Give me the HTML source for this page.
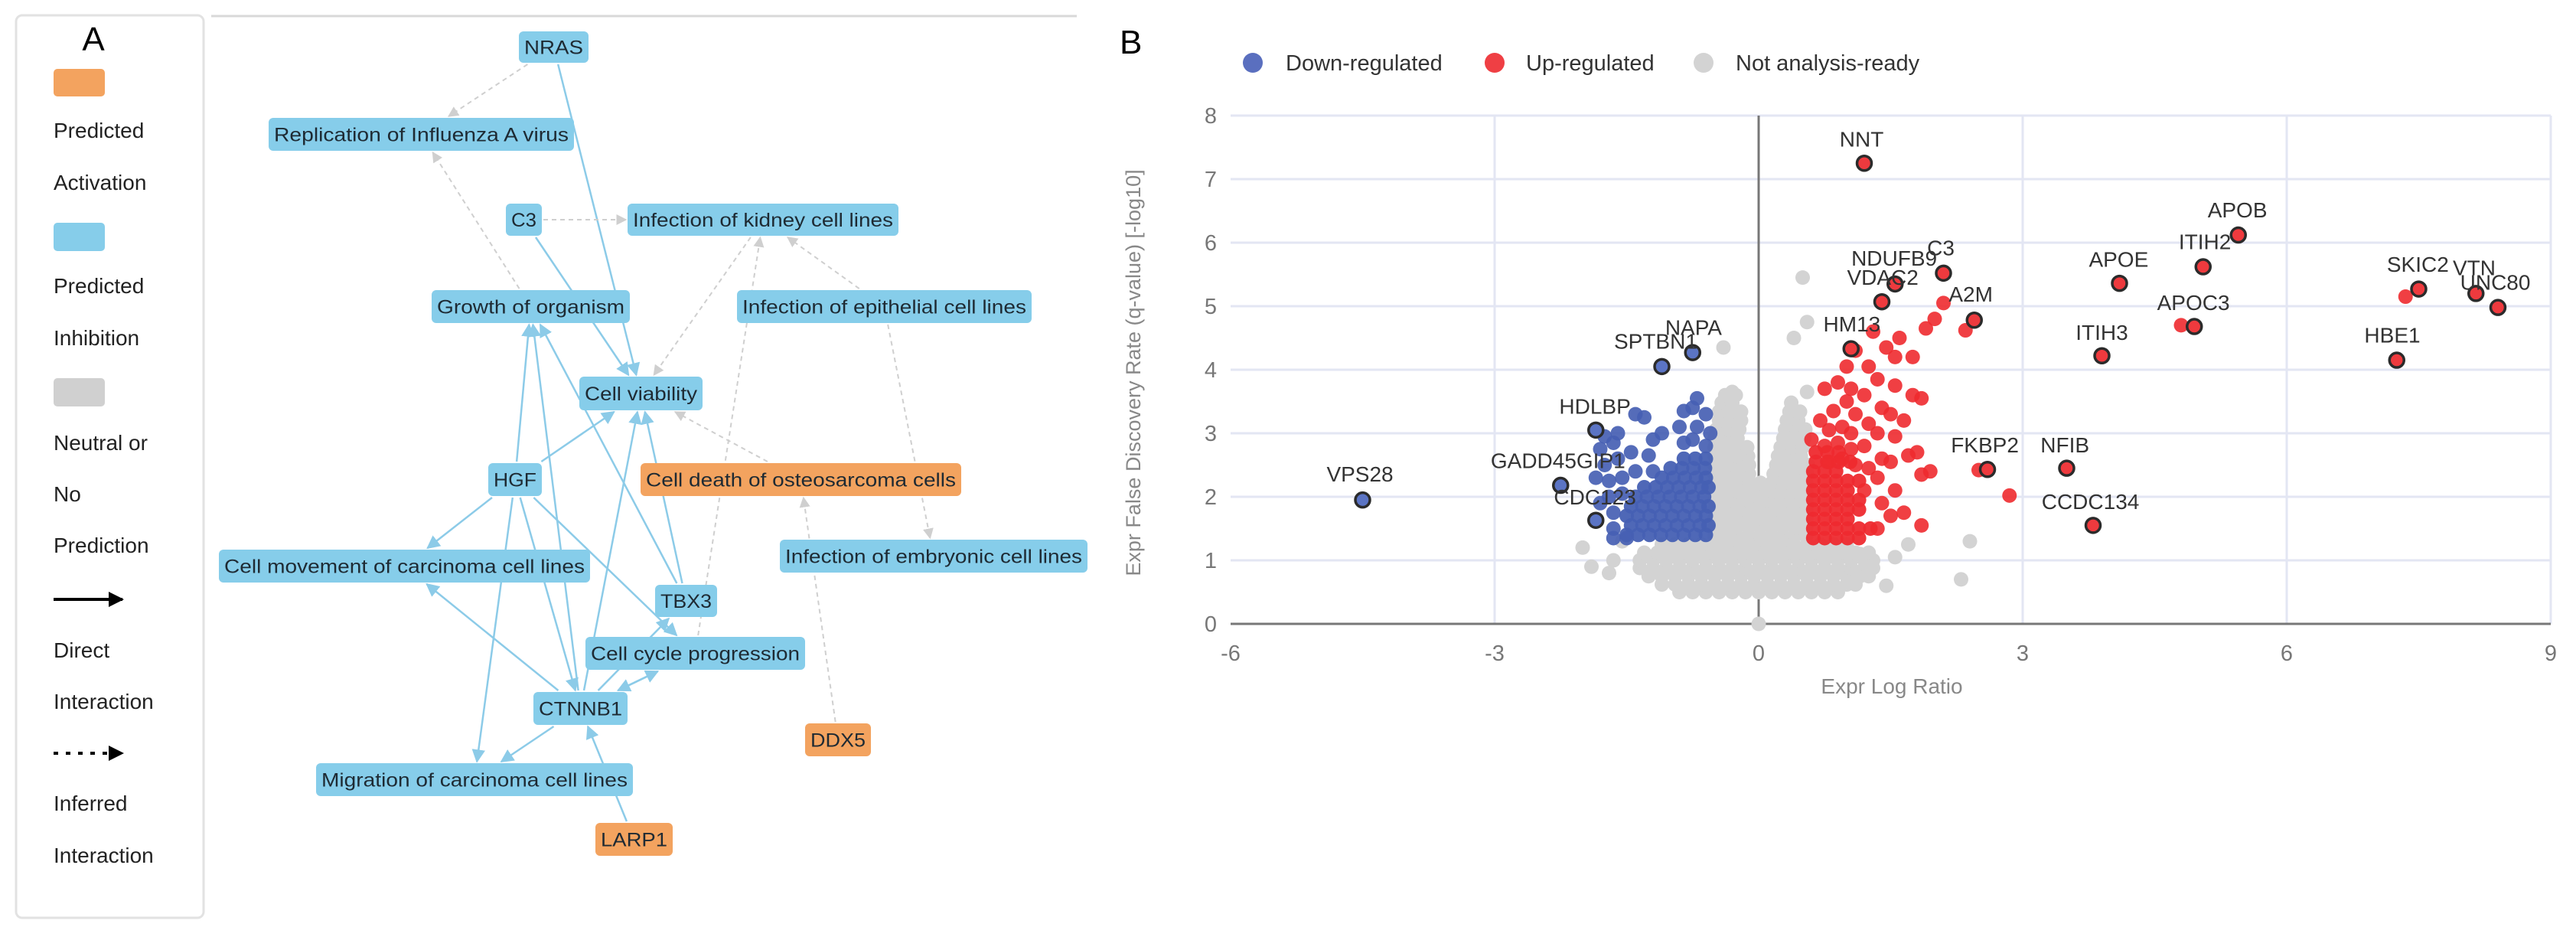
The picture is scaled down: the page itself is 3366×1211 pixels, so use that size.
<!DOCTYPE html>
<html><head><meta charset="utf-8"><style>
html,body{margin:0;padding:0;background:#fff;}
svg{display:block;font-family:"Liberation Sans",Arial,sans-serif;}
</style></head><body>
<svg id="root" width="3366" height="1211" viewBox="0 0 3366 1211" xmlns="http://www.w3.org/2000/svg">
<defs>
<marker id="ab" viewBox="0 0 10 10" refX="9" refY="5" markerWidth="7" markerHeight="7" orient="auto"><path d="M0,0L10,5L0,10z" fill="#8ccbe8"/></marker>
<marker id="ag" viewBox="0 0 10 10" refX="9" refY="5" markerWidth="7" markerHeight="7" orient="auto"><path d="M0,0L10,5L0,10z" fill="#cfcfcf"/></marker>
<marker id="ak" viewBox="0 0 10 10" refX="9" refY="5" markerWidth="5" markerHeight="5" orient="auto"><path d="M0,0L10,5L0,10z" fill="#000"/></marker>
</defs>
<g>
<rect x="21" y="20" width="245" height="1179" rx="8" fill="#fff" stroke="#e2e2e2" stroke-width="3"/>
<line x1="276" y1="21" x2="1407" y2="21" stroke="#d8d8d8" stroke-width="3"/>
<text x="122" y="66" font-size="44" text-anchor="middle" fill="#000">A</text>
<g font-size="28" fill="#222">
<rect x="70" y="90" width="67" height="36" rx="5" fill="#f3a35f"/>
<text x="70" y="180">Predicted</text>
<text x="70" y="248">Activation</text>
<rect x="70" y="291" width="67" height="37" rx="5" fill="#86cdea"/>
<text x="70" y="383">Predicted</text>
<text x="70" y="451">Inhibition</text>
<rect x="70" y="494" width="67" height="37" rx="5" fill="#d0d0d0"/>
<text x="70" y="588">Neutral or</text>
<text x="70" y="655">No</text>
<text x="70" y="722">Prediction</text>
<line x1="70" y1="783" x2="160" y2="783" stroke="#000" stroke-width="4" marker-end="url(#ak)"/>
<text x="70" y="859">Direct</text>
<text x="70" y="926">Interaction</text>
<line x1="70" y1="984" x2="160" y2="984" stroke="#000" stroke-width="4" stroke-dasharray="6,10" marker-end="url(#ak)"/>
<text x="70" y="1059">Inferred</text>
<text x="70" y="1127">Interaction</text>
</g>
<g id="edges"></g>
<g id="nodes"></g>
</g>
<g>
<text x="1463" y="70" font-size="44" fill="#000">B</text>
<g font-size="29" fill="#333">
<circle cx="1637" cy="82" r="13" fill="#5a6fbf"/>
<text x="1680" y="92">Down-regulated</text>
<circle cx="1953" cy="82" r="13" fill="#ef3f44"/>
<text x="1994" y="92">Up-regulated</text>
<circle cx="2226" cy="82" r="13" fill="#d3d3d3"/>
<text x="2268" y="92">Not analysis-ready</text>
</g>
<g id="plot"></g>
</g>
</svg>
<script>
var NS='http://www.w3.org/2000/svg';
function mk(tag,attrs,parent){var e=document.createElementNS(NS,tag);for(var k in attrs)e.setAttribute(k,attrs[k]);parent.appendChild(e);return e;}
var nodeIds=['NRAS','REP','C3','KID','GRO','EPI','VIA','HGF','OST','EMB','MOV','TBX3','CYC','CTNNB1','DDX5','MIG','LARP1'];
var nodeLabels=['NRAS','Replication of Influenza A virus','C3','Infection of kidney cell lines','Growth of organism','Infection of epithelial cell lines','Cell viability','HGF','Cell death of osteosarcoma cells','Infection of embryonic cell lines','Cell movement of carcinoma cell lines','TBX3','Cell cycle progression','CTNNB1','DDX5','Migration of carcinoma cell lines','LARP1'];
var nodeBox=[[678,41,769,82],[351,154,750,197],[661,266,708,308],[820,266,1174,308],[564,379,823,422],[963,379,1348,422],[757,492,918,536],[638,605,708,648],[837,605,1256,648],[1019,705,1421,748],[286,718,771,761],[856,764,937,806],[765,832,1052,875],[697,904,820,947],[1052,945,1138,988],[413,997,827,1040],[778,1075,879,1118]];
var nodeOrange=['OST','DDX5','LARP1'];
var solidEdges=[['NRAS','VIA'],['C3','VIA'],['HGF','VIA'],['HGF','GRO'],['HGF','MOV'],['HGF','MIG'],['HGF','CTNNB1'],['HGF','CYC'],['CTNNB1','GRO'],['CTNNB1','VIA'],['CTNNB1','MOV'],['CTNNB1','MIG'],['CTNNB1','CYC'],['CYC','CTNNB1'],['TBX3','GRO'],['TBX3','VIA'],['CTNNB1','TBX3'],['LARP1','CTNNB1']];
var dashEdges=[['NRAS','REP'],['GRO','REP'],['C3','KID'],['KID','VIA'],['EPI','KID'],['EPI','EMB'],['OST','VIA'],['CYC','KID'],['DDX5','OST']];
function box(id){return nodeBox[nodeIds.indexOf(id)];}
function ctr(b){return [(b[0]+b[2])/2,(b[1]+b[3])/2];}
function clip(from,b){var c=ctr(b),dx=from[0]-c[0],dy=from[1]-c[1];var hw=(b[2]-b[0])/2+2,hh=(b[3]-b[1])/2+2;var t=Math.min(dx?hw/Math.abs(dx):1e9,dy?hh/Math.abs(dy):1e9);return [c[0]+dx*t,c[1]+dy*t];}
var eg=document.getElementById('edges');
function drawEdge(e,dash){var s=ctr(box(e[0])),tb=box(e[1]);var p1=clip(ctr(tb),box(e[0])),p2=clip(s,tb);
 var l=mk('line',{x1:p1[0],y1:p1[1],x2:p2[0],y2:p2[1],stroke:dash?'#cfcfcf':'#8ccbe8','stroke-width':dash?2:2.5,'marker-end':dash?'url(#ag)':'url(#ab)'},eg);
 if(dash)l.setAttribute('stroke-dasharray','6,5');
 
 }
solidEdges.forEach(function(e){drawEdge(e,false);});
dashEdges.forEach(function(e){drawEdge(e,true);});
var ng=document.getElementById('nodes');
nodeIds.forEach(function(id,i){var b=nodeBox[i];var g=mk('g',{},ng);
 
 
 var orange=nodeOrange.indexOf(id)>=0;
 mk('rect',{x:b[0],y:b[1],width:b[2]-b[0],height:b[3]-b[1],rx:6,fill:orange?'#f3a35f':'#86cdea'},g);
 var t=mk('text',{x:(b[0]+b[2])/2,y:(b[1]+b[3])/2+9,'font-size':25,'text-anchor':'middle',fill:'#1e2a33',textLength:(b[2]-b[0]-14),lengthAdjust:'spacingAndGlyphs'},g);
 t.textContent=nodeLabels[i];});

// ---------- Panel B volcano ----------
var xTicks=[-6,-3,0,3,6,9];
var yTicks=[0,1,2,3,4,5,6,7,8];
var grayRowY=[0.5,0.62,0.75,0.88,1.0,1.12,1.25,1.38,1.52,1.66,1.8,1.94,2.08,2.22,2.36,2.5,2.64,2.78,2.92,3.06,3.2,3.34,3.48,3.6];
var grayRowX=[
[-0.9,-0.75,-0.6,-0.45,-0.3,-0.15,0,0.15,0.3,0.45,0.6,0.75,0.9],
[-1.1,-0.95,-0.8,-0.65,-0.5,-0.35,-0.2,-0.05,0.1,0.25,0.4,0.55,0.7,0.85,1.0,1.1],
[-1.25,-1.1,-0.95,-0.8,-0.65,-0.5,-0.35,-0.2,-0.05,0.1,0.25,0.4,0.55,0.7,0.85,1.0,1.15,1.25],
[-1.35,-1.2,-1.05,-0.9,-0.75,-0.6,-0.45,-0.3,-0.15,0,0.15,0.3,0.45,0.6,0.75,0.9,1.05,1.2,1.3],
[-1.35,-1.2,-1.05,-0.9,-0.75,-0.6,-0.45,-0.3,-0.15,0,0.15,0.3,0.45,0.6,0.75,0.9,1.05,1.2,1.3],
[-1.3,-1.15,-1.0,-0.85,-0.7,-0.55,-0.4,-0.25,-0.1,0.05,0.2,0.35,0.5,0.65,0.8,0.95,1.1,1.25],
[-1.1,-0.95,-0.8,-0.65,-0.5,-0.35,-0.2,-0.05,0.1,0.25,0.4,0.55,0.7,0.85,1.0],
[-0.5,-0.37,-0.24,-0.11,0.02,0.15,0.28,0.41,0.54],
[-0.5,-0.37,-0.24,-0.11,0.02,0.15,0.28,0.41,0.54],
[-0.5,-0.37,-0.24,-0.11,0.02,0.15,0.28,0.41,0.54],
[-0.5,-0.37,-0.24,-0.11,0.02,0.15,0.28,0.41,0.54],
[-0.5,-0.37,-0.24,-0.11,0.02,0.15,0.28,0.41,0.54],
[-0.5,-0.37,-0.24,-0.11,0.02,0.15,0.28,0.41,0.54],
[-0.5,-0.37,-0.24,-0.11,0.02,0.15,0.28,0.41,0.54],
[-0.5,-0.37,-0.24,-0.11,0.17,0.3,0.43,0.55],
[-0.5,-0.37,-0.24,-0.11,0.2,0.33,0.46,0.56],
[-0.5,-0.37,-0.24,-0.12,0.22,0.35,0.48],
[-0.5,-0.37,-0.24,-0.13,0.25,0.38,0.5],
[-0.5,-0.37,-0.24,0.28,0.4,0.52],
[-0.48,-0.35,-0.22,0.3,0.43,0.53],
[-0.45,-0.32,-0.2,0.32,0.45],
[-0.45,-0.32,-0.2,0.35,0.47],
[-0.42,-0.3,0.37],
[-0.38,-0.26]];
var grayExtraX=[-2.0,-1.9,-1.65,-1.55,1.55,1.7,1.25,2.3,2.4,0.5,0.55,0.4,-0.4,0,-0.3,1.15,-1.7,1.45,0.55];
var grayExtraY=[1.2,0.9,1.0,1.3,1.05,1.25,0.8,0.7,1.3,5.45,4.75,4.5,4.35,0,3.65,1.1,0.8,0.6,3.65];
var downRowY=[1.4,1.55,1.7,1.85,2.0,2.15,2.3,2.45,2.6];
var downRowX=[
[-1.5,-1.37,-1.24,-1.11,-0.98,-0.85,-0.72,-0.6],
[-1.45,-1.32,-1.19,-1.06,-0.93,-0.8,-0.67,-0.57],
[-1.5,-1.37,-1.24,-1.11,-0.98,-0.85,-0.72,-0.6],
[-1.45,-1.32,-1.19,-1.06,-0.93,-0.8,-0.67,-0.57],
[-1.4,-1.27,-1.14,-1.01,-0.88,-0.75,-0.62],
[-1.3,-1.17,-1.04,-0.91,-0.78,-0.65,-0.57],
[-1.1,-0.97,-0.84,-0.71,-0.6],
[-1.0,-0.87,-0.74,-0.61],
[-0.85,-0.72,-0.6]];
var downX=[-0.6,-0.55,-0.6,-0.7,-0.75,-0.7,-0.75,-0.85,-0.9,-0.85,-1.1,-1.2,-1.25,-1.2,-1.3,-1.4,-1.45,-1.4,-1.5,-1.55,-1.55,-1.6,-1.65,-1.65,-1.7,-1.7,-1.75,-1.65,-1.8,-1.75,-1.85,-1.8,-1.6,-1.65];
var downY=[2.8,3.0,3.3,3.55,3.4,3.1,2.9,2.85,3.1,3.35,3.0,2.4,2.65,2.9,3.25,2.4,2.7,3.3,1.35,2.05,2.3,2.6,1.5,1.75,2.0,2.25,2.5,2.85,2.75,2.95,2.3,1.9,3.0,1.35];
var upRowY=[1.35,1.5,1.65,1.8,1.95,2.1,2.25,2.4,2.55,2.7];
var upRowX=[
[0.62,0.75,0.88,1.01,1.14],
[0.62,0.75,0.88,1.01,1.14,1.27],
[0.62,0.75,0.88,1.01],
[0.62,0.75,0.88,1.01,1.14],
[0.62,0.75,0.88,1.01,1.14],
[0.62,0.75,0.88,1.01],
[0.62,0.75,0.88,1.01,1.14],
[0.62,0.75,0.88],
[0.65,0.78,0.91,1.04],
[0.65,0.78,0.91]];
var upX=[0.6,0.7,0.75,0.8,0.75,0.8,0.85,0.9,0.95,0.9,0.95,1.0,1.0,1.05,1.1,1.05,1.1,1.05,1.1,1.2,1.25,1.2,1.25,1.2,1.25,1.3,1.35,1.4,1.35,1.4,1.35,1.4,1.35,1.45,1.5,1.55,1.5,1.55,1.5,1.55,1.55,1.6,1.65,1.7,1.65,1.75,1.75,1.85,1.85,1.8,1.85,1.9,2.0,1.95,2.1,2.35,2.5,2.85,4.8,7.35];
var upY=[2.9,3.2,3.7,3.05,2.8,2.55,3.35,3.8,3.1,2.85,2.6,3.5,4.05,3.0,3.3,2.75,2.5,3.7,4.3,2.1,2.45,2.8,3.15,3.6,4.05,4.6,1.5,1.9,2.3,2.6,3.0,3.4,3.85,4.35,1.7,2.1,2.55,2.95,3.3,3.75,4.2,4.5,1.75,2.65,3.2,3.6,4.2,1.55,2.35,2.7,3.55,4.65,4.8,2.4,5.05,4.62,2.42,2.02,4.7,5.15];
var geneNames=['NNT','APOB','ITIH2','C3','NDUFB9','VDAC2','APOE','SKIC2','VTN','UNC80','A2M','APOC3','HM13','ITIH3','HBE1','NAPA','SPTBN1','HDLBP','GADD45GIP1','CDC123','VPS28','FKBP2','NFIB','CCDC134'];
var geneX=[1.2,5.45,5.05,2.1,1.55,1.4,4.1,7.5,8.15,8.4,2.45,4.95,1.05,3.9,7.25,-0.75,-1.1,-1.85,-2.25,-1.85,-4.5,2.6,3.5,3.8];
var geneY=[7.25,6.12,5.62,5.52,5.35,5.07,5.36,5.27,5.2,4.98,4.78,4.68,4.33,4.22,4.15,4.27,4.05,3.05,2.18,1.63,1.95,2.43,2.45,1.55];
var geneUp=[1,1,1,1,1,1,1,1,1,1,1,1,1,1,1,0,0,0,0,0,0,1,1,1];
var labelX=[1.17,5.44,5.07,2.07,1.54,1.41,4.09,7.49,8.13,8.37,2.41,4.94,1.06,3.9,7.2,-0.74,-1.17,-1.86,-2.28,-1.86,-4.53,2.57,3.48,3.77];
var labelY=[7.63,6.52,6.02,5.92,5.76,5.46,5.74,5.66,5.61,5.38,5.19,5.06,4.72,4.59,4.55,4.67,4.45,3.43,2.57,2.0,2.36,2.82,2.82,1.93];

var X0=1608,XU=115,Y0=815,YU=83;
function sx(v){return X0+(v+6)*XU;}
function sy(v){return Y0-v*YU;}
var pg=document.getElementById('plot');
var grid=mk('g',{},pg);


yTicks.forEach(function(t){if(t===0)return;var l=mk('line',{x1:sx(-6),x2:sx(9),y1:sy(t),y2:sy(t),stroke:'#e3e6f3','stroke-width':3},grid);
 
 });
xTicks.forEach(function(t){if(t===0||t===-6)return;var l=mk('line',{x1:sx(t),x2:sx(t),y1:sy(0),y2:sy(8),stroke:'#e3e6f3','stroke-width':3},grid);
 
 });
var xa=mk('line',{x1:sx(-6),x2:sx(9),y1:sy(0),y2:sy(0),stroke:'#777','stroke-width':3},pg);


var ya=mk('line',{x1:sx(0),x2:sx(0),y1:sy(0),y2:sy(8),stroke:'#777','stroke-width':3},pg);


xTicks.forEach(function(t){var tx=mk('text',{x:sx(t),y:sy(0)+48,'font-size':29,'text-anchor':'middle',fill:'#777'},pg);tx.textContent=t;
 
 });
yTicks.forEach(function(t){var tx=mk('text',{x:1590,y:sy(t)+10,'font-size':29,'text-anchor':'end',fill:'#777'},pg);tx.textContent=t;
 
 });
var xt=mk('text',{x:sx(0)+174,y:906,'font-size':28,'text-anchor':'middle',fill:'#888'},pg);xt.textContent='Expr Log Ratio';


var yt=mk('text',{x:0,y:0,'font-size':27,'text-anchor':'middle',fill:'#888',transform:'translate(1490,487) rotate(-90)'},pg);yt.textContent='Expr False Discovery Rate (q-value) [-log10]';


var pts=mk('g',{},pg);


function dot(x,y,fill,name,op){var c=mk('circle',{cx:sx(x),cy:sy(y),r:9.5,fill:fill,'fill-opacity':op},pts);
 
 }
grayRowY.forEach(function(yv,i){grayRowX[i].forEach(function(xv){dot(xv,yv,'#d3d3d3','point-not-ready',1);});});
grayExtraX.forEach(function(xv,i){dot(xv,grayExtraY[i],'#d3d3d3','point-not-ready',1);});
downRowY.forEach(function(yv,i){downRowX[i].forEach(function(xv){dot(xv,yv,'#4660b3','point-down',0.95);});});
downX.forEach(function(xv,i){dot(xv,downY[i],'#4660b3','point-down',0.92);});
upRowY.forEach(function(yv,i){upRowX[i].forEach(function(xv){dot(xv,yv,'#ee2a2f','point-up',0.95);});});
upX.forEach(function(xv,i){dot(xv,upY[i],'#ee2a2f','point-up',0.9);});
geneNames.forEach(function(n,i){var c=mk('circle',{cx:sx(geneX[i]),cy:sy(geneY[i]),r:9.5,fill:geneUp[i]?'#ee3a3e':'#5b74c4',stroke:'#2b2b2b','stroke-width':3.5},pts);
 
 
 var t=mk('text',{x:sx(labelX[i]),y:sy(labelY[i])+10,'font-size':28,'text-anchor':'middle',fill:'#333'},pts);t.textContent=n;
 
 });
</script>
</body></html>
